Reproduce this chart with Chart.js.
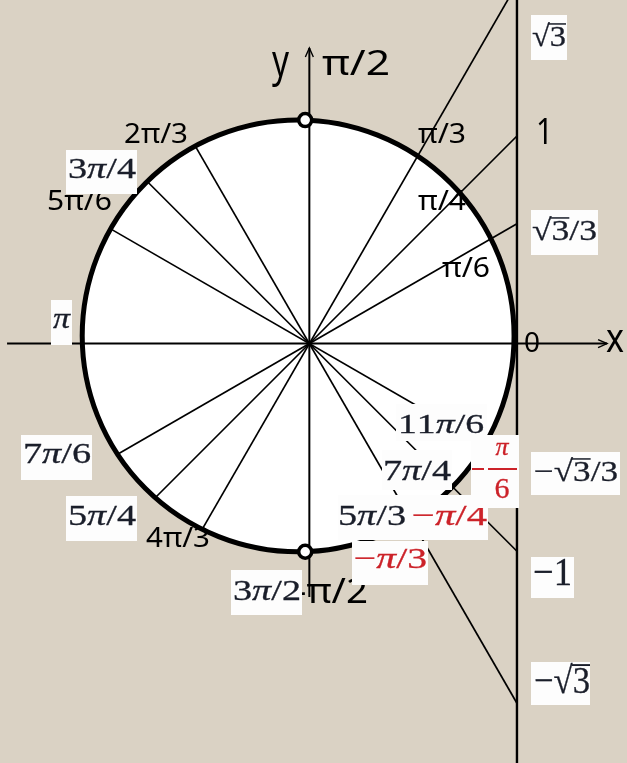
<!DOCTYPE html>
<html>
<head>
<meta charset="utf-8">
<script src="https://cdn.jsdelivr.net/npm/chart.js@4"></script>
<style>
  body { margin: 0; background: #dad2c4; }
  canvas { display: block; }
</style>
</head>
<body>
<canvas id="myChart" width="627" height="763"></canvas>
<script>
// angles (degrees) whose lines run from the circle, through the centre, to the tangent x = 1
const angleLabels = ['π/6', 'π/4', 'π/3', '−π/6', '−π/4', '−π/3'];
const angleDeg = [30, 45, 60, -30, -45, -60];
const tanValues = [0.577, 1, 1.732, -0.577, -1, -1.732];

// the drawn circle is slightly off the origin in the picture
const circleCx = -0.054;
const circleCy = 0.037;
const circleR = 1.04;

// axes extents
const xAxisFrom = -1.456, xAxisTo = 1.434;
const yAxisFrom = -1.22, yAxisTo = 1.424;
const tangentX = 1;

// where a ray from the origin meets the circle
function onCircle(deg) {
  const a = deg * Math.PI / 180;
  const dx = Math.cos(a), dy = Math.sin(a);
  const dc = dx * circleCx + dy * circleCy;
  const t = dc + Math.sqrt(dc * dc - circleCx * circleCx - circleCy * circleCy + circleR * circleR);
  return { x: dx * t, y: dy * t };
}

const thin = { showLine: true, borderColor: '#000', pointRadius: 0, fill: false };

const datasets = [];
// markers at pi/2 and -pi/2
const mTop = circleCy + Math.sqrt(circleR * circleR - (0.02 + circleCx) ** 2);
const mBot = circleCy - Math.sqrt(circleR * circleR - (0.02 + circleCx) ** 2);
datasets.push({
  data: [{ x: -0.02, y: mTop }, { x: -0.02, y: mBot }],
  pointRadius: 6.5, pointBorderWidth: 3.5, pointBackgroundColor: '#fff',
  pointBorderColor: '#000', showLine: false
});
angleDeg.forEach((d, i) => {
  datasets.push({ ...thin, borderWidth: 1.7, data: [onCircle(d + 180), { x: tangentX, y: tanValues[i] }] });
});
datasets.push({ ...thin, borderWidth: 2, data: [{ x: xAxisFrom, y: 0 }, { x: xAxisTo, y: 0 }] });
datasets.push({ ...thin, borderWidth: 2, data: [{ x: 0, y: yAxisFrom }, { x: 0, y: yAxisTo }] });
datasets.push({ ...thin, borderWidth: 2.4, data: [{ x: tangentX, y: -2.1 }, { x: tangentX, y: 1.8 }] });

const plainLabels = [
  ['y', 272, 76, 17, 44], ['π/2', 322, 75, 68, 35],
  ['2π/3', 124, 143, 64, 27], ['π/3', 418, 143, 48, 27],
  ['5π/6', 47, 210, 65, 27], ['π/4', 418, 210, 48, 27],
  ['π/6', 442, 277, 48, 27], ['0', 524, 352, 16, 27],
  ['x', 606, 352, 18, 40], ['1', 536, 144, 17, 36],
  ['4π/3', 146, 547, 64, 27], ['-π/2', 294, 603, 74, 34]
];

const dark = '#1a1e2a', red = '#cc2229';
const boxLabels = [
  ['√3', 531, 15, 567, 60, 532, 566, 46, 30, dark],
  ['√3/3', 531, 210, 598, 255, 532, 597, 240, 30, dark],
  ['3π/4', 66, 150, 137, 194, 68, 136, 178, 30, dark],
  ['π', 51, 300, 72, 345, 53, 70, 328, 30, dark],
  ['11π/6', 396, 404, 487, 441, 398, 484, 433, 28, dark],
  ['7π/6', 21, 435, 92, 480, 23, 91, 463, 30, dark],
  ['7π/4', 382, 450, 452, 490, 383, 451, 480, 30, dark],
  ['−√3/3', 531, 452, 620, 495, 534, 618, 481, 30, dark],
  ['5π/4', 66, 496, 137, 541, 68, 136, 525, 30, dark],
  ['5π/3', 338, 495, 408, 540, 338, 406, 525, 30, dark],
  ['−π/4', 408, 495, 488, 540, 412, 487, 525, 30, red],
  ['−π/3', 352, 541, 428, 585, 354, 427, 568, 30, red],
  ['−1', 531, 557, 574, 598, 533, 572, 585, 40, dark],
  ['3π/2', 231, 570, 302, 615, 233, 301, 600, 30, dark],
  ['−√3', 531, 662, 590, 705, 534, 590, 693, 38, dark]
];

function fitText(c, s, x, base, w, size, font, color) {
  c.font = size + 'px ' + font;
  const k = w / c.measureText(s).width;
  c.save();
  c.translate(x, base);
  c.scale(k, 1);
  c.fillStyle = color;
  c.fillText(s, 0, 0);
  c.restore();
}

function mathText(c, s, x0, x1, base, size, color) {
  const parts = [];
  let w = 0;
  for (let i = 0; i < s.length; i++) {
    const ch = s[i];
    const font = (ch === 'π' ? 'italic ' : '') + size + 'px "Liberation Serif"';
    c.font = font;
    const cw = c.measureText(ch).width;
    parts.push({ ch, font, x: w, w: cw, over: s[i - 1] === '√' });
    w += cw;
  }
  c.save();
  c.translate(x0, base);
  c.scale((x1 - x0) / w, 1);
  c.fillStyle = color;
  c.strokeStyle = color;
  c.lineWidth = 0.3;
  for (const p of parts) {
    c.font = p.font;
    c.fillText(p.ch, p.x, 0);
    c.strokeText(p.ch, p.x, 0);
    if (p.over) c.fillRect(p.x - 1, -size * 0.76, p.w + 1, Math.max(1.4, size * 0.05));
  }
  c.restore();
}

const bgPlugin = {
  id: 'bg',
  beforeDraw(chart) {
    const c = chart.ctx;
    c.save();
    c.fillStyle = '#dad2c4';
    c.fillRect(0, 0, chart.width, chart.height);
    c.restore();
  }
};

const circlePlugin = {
  id: 'circle',
  beforeDatasetsDraw(chart) {
    const { x, y } = chart.scales;
    const c = chart.ctx;
    const px = x.getPixelForValue(circleCx), py = y.getPixelForValue(circleCy);
    const r = x.getPixelForValue(circleCx + circleR) - px;
    c.save();
    c.beginPath();
    c.arc(px, py, r, 0, Math.PI * 2);
    c.fillStyle = '#fff';
    c.fill();
    c.lineWidth = 5;
    c.strokeStyle = '#000';
    c.stroke();
    c.restore();
  },
  afterDatasetsDraw(chart) {
    const { x, y } = chart.scales;
    const c = chart.ctx;
    c.save();
    c.strokeStyle = '#000';
    c.lineWidth = 1.4;
    // arrow heads
    const ax = x.getPixelForValue(xAxisTo), ay = y.getPixelForValue(0);
    c.beginPath();
    c.moveTo(ax - 9, ay - 4); c.lineTo(ax, ay); c.lineTo(ax - 9, ay + 4);
    c.stroke();
    const bx = x.getPixelForValue(0), by = y.getPixelForValue(yAxisTo);
    c.beginPath();
    c.moveTo(bx - 4, by + 9); c.lineTo(bx, by); c.lineTo(bx + 4, by + 9);
    c.stroke();

    plainLabels.forEach(([s, lx, base, w, size]) => fitText(c, s, lx, base, w, size, '"Noto Sans"', '#000'));

    boxLabels.forEach(([s, bx0, by0, bx1, by1, tx0, tx1, base, size, col]) => {
      c.fillStyle = '#fdfdfd';
      c.fillRect(bx0, by0, bx1 - bx0, by1 - by0);
      mathText(c, s, tx0, tx1, base, size, col);
    });

    // -pi/6 as a fraction
    c.fillStyle = '#fdfdfd';
    c.fillRect(471, 435, 48, 73);
    c.fillStyle = red;
    c.strokeStyle = red;
    c.lineWidth = 0.3;
    c.fillRect(472, 468, 12, 2);
    c.fillRect(488, 468, 29, 2);
    c.textAlign = 'center';
    c.font = 'italic 26px "Liberation Serif"';
    c.fillText('π', 502, 455);
    c.strokeText('π', 502, 455);
    c.font = '30px "Liberation Serif"';
    c.fillText('6', 502, 498);
    c.strokeText('6', 502, 498);
    c.restore();
  }
};

new Chart(document.getElementById('myChart'), {
  type: 'scatter',
  data: { datasets },
  options: {
    responsive: false,
    animation: false,
    layout: { padding: 0, autoPadding: false },
    plugins: { legend: { display: false }, tooltip: { enabled: false } },
    scales: {
      x: { type: 'linear', min: -1.49, max: 1.53, display: false },
      y: { type: 'linear', min: -2.02, max: 1.655, display: false }
    }
  },
  plugins: [bgPlugin, circlePlugin]
});
</script>
</body>
</html>
